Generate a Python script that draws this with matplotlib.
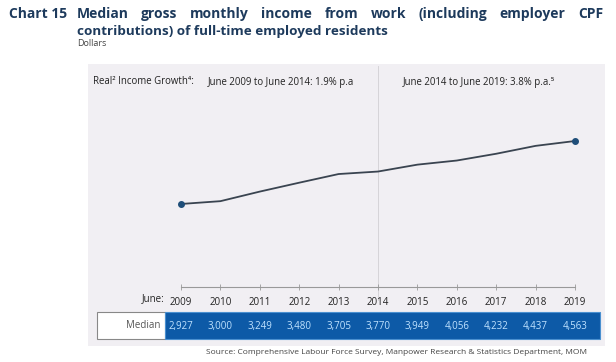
import matplotlib.pyplot as plt
from matplotlib.patches import Rectangle
from matplotlib.transforms import blended_transform_factory

years = [2009, 2010, 2011, 2012, 2013, 2014, 2015, 2016, 2017, 2018, 2019]
median = [2927, 3000, 3249, 3480, 3705, 3770, 3949, 4056, 4232, 4437, 4563]
title_line1 = "Median gross monthly income from work (including employer CPF"
title_line2 = "contributions) of full-time employed residents"
growth_label = "Real\u00b2 Income Growth\u2074:"
growth_1 = "June 2009 to June 2014: 1.9% p.a"
growth_2 = "June 2014 to June 2019: 3.8% p.a.\u2075"
source = "Source: Comprehensive Labour Force Survey, Manpower Research & Statistics Department, MOM"

W, H = 616, 362
plt.rcParams['font.family'] = ['Open Sans', 'DejaVu Sans']
fig = plt.figure(figsize=(W / 100, H / 100), dpi=100)
fig.patch.set_facecolor("white")

def fx(px):
    return px / W

def fy(py):
    return 1 - py / H

navy = "#1d3a5c"

# grey panel behind the chart
fig.patches.append(Rectangle((fx(88), fy(346)), fx(605) - fx(88), fy(64) - fy(346),
                             transform=fig.transFigure, facecolor="#f1eff3", edgecolor="none", zorder=-5))

# title, first line spread out like justified text
fig.text(fx(9), fy(14), "Chart 15", fontsize=10, fontweight="bold", color=navy, va="center")
words = title_line1.split()
texts = [fig.text(fx(77), fy(14), w, fontsize=10, fontweight="bold", color=navy, va="center") for w in words]
fig.canvas.draw()
r = fig.canvas.get_renderer()
widths = [t.get_window_extent(r).width for t in texts]
gap = (603 - 77 - sum(widths)) / (len(words) - 1)
x = 77
for t, w in zip(texts, widths):
    t.set_x(fx(x))
    x += w + gap
fig.text(fx(77), fy(31), title_line2, fontsize=9.7, fontweight="bold", color=navy, va="center")
fig.text(fx(77), fy(44), "Dollars", fontsize=6.5, color="#444444", va="center")

# line chart
ax = fig.add_axes([fx(181), fy(287), fx(575) - fx(181), fy(68) - fy(287)])
ax.set_facecolor("none")
ax.plot(years, median, color="#3a4450", lw=1.3, zorder=3)
ax.plot([years[0], years[-1]], [median[0], median[-1]], "o", color="#1f4e79", ms=4, zorder=4, clip_on=False)
ax.axvline(2014, ymin=-0.06, ymax=1.01, color="#d6d4d8", lw=0.7, clip_on=False, zorder=1)
ax.set_xlim(2009, 2019)
ax.set_ylim(770, 6460)
for s in ["top", "right", "left"]:
    ax.spines[s].set_visible(False)
ax.spines["bottom"].set_color("#999999")
ax.spines["bottom"].set_linewidth(0.8)
ax.set_yticks([])
ax.set_xticks(years)
ax.set_xticklabels([str(y) for y in years], fontsize=7, color="#222222")
ax.tick_params(axis="x", direction="inout", length=4, width=0.6, color="#999999", pad=5)

fig.text(fx(93), fy(82), growth_label, fontsize=6.9, color="#222222", va="center")
fig.text(fx(208), fy(82), growth_1, fontsize=6.9, color="#222222", va="center")
fig.text(fx(403), fy(82), growth_2, fontsize=6.9, color="#222222", va="center")
fig.text(fx(165), fy(299), "June:", fontsize=7, color="#222222", va="center", ha="right")

# table row
fig.patches.append(Rectangle((fx(97), fy(339)), fx(165) - fx(97), fy(312) - fy(339),
                             transform=fig.transFigure, facecolor="white", edgecolor="#888888", lw=0.8, zorder=1))
fig.patches.append(Rectangle((fx(165), fy(339)), fx(600) - fx(165), fy(312) - fy(339),
                             transform=fig.transFigure, facecolor="#0d5aa7", edgecolor="#4a90d0", lw=0.8, zorder=1))
fig.text(fx(160), fy(326), "Median", fontsize=7, color="#555555", va="center", ha="right")
tr = blended_transform_factory(ax.transData, fig.transFigure)
for yr, v in zip(years, median):
    fig.text(yr, fy(326), f"{v:,}", transform=tr, fontsize=7, color="#bfe2ff", va="center", ha="center")

fig.text(fx(396), fy(353), source, fontsize=6.0, color="#444444", va="center", ha="center")

fig.savefig("out.png", dpi=100)
